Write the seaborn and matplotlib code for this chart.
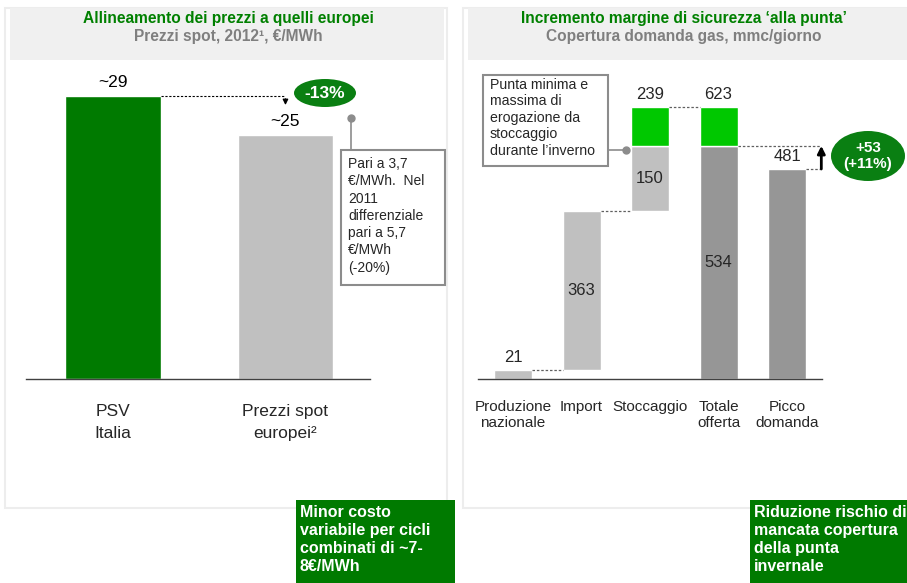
import matplotlib.pyplot as plt
import seaborn as sns
from matplotlib.patches import Rectangle, Ellipse

W, H = 907, 583

# left chart: spot prices 2012
price_labels = ["PSV\nItalia", "Prezzi spot\neuropei\u00b2"]
price_values = [29, 25]
price_text = ["~29", "~25"]
price_change = "-13%"
price_note = "Pari a 3,7\n\u20ac/MWh.  Nel\n2011\ndifferenziale\npari a 5,7\n\u20ac/MWh\n(-20%)"

# right chart: gas demand coverage (mmc/giorno)
supply_labels = ["Produzione\nnazionale", "Import", "Stoccaggio", "Totale\nofferta", "Picco\ndomanda"]
produzione = 21
importazione = 363
stoccaggio_min = 150
stoccaggio_max = 239
picco = 481
delta_label = "+53\n(+11%)"
storage_note = "Punta minima e\nmassima di\nerogazione da\nstoccaggio\ndurante l\u2019inverno"

GREEN = "#007A00"
BRIGHT = "#00C800"
LGRAY = "#C0C0C0"
DGRAY = "#969696"
OVAL = "#0A7F12"

sns.set_theme(style="white")
plt.rcParams["font.family"] = ["Liberation Sans", "DejaVu Sans"]
NARROW = ["Liberation Sans Narrow", "DejaVu Sans Condensed", "Liberation Sans", "DejaVu Sans"]

fig = plt.figure(figsize=(W / 100, H / 100), dpi=100)


def fx(x):
    return x / W


def fy(y):
    return 1 - y / H


def frect(x0, y0, x1, y1, **kw):
    fig.patches.append(Rectangle((fx(x0), fy(y1)), fx(x1 - x0), (y1 - y0) / H,
                                 transform=fig.transFigure, figure=fig, **kw))


# panels and headers
for x0, x1 in [(5, 447), (463, 912)]:
    frect(x0, 8, x1, 508, facecolor="white", edgecolor="#EDEDED", lw=1.5, zorder=-5)
    frect(x0 + 5, 8, x1 - 3, 60, facecolor="#F0F0F0", edgecolor="none", zorder=-4)

hdr = dict(ha="center", va="center", fontsize=11.2, fontweight="bold")
fig.text(fx(228), fy(18), "Allineamento dei prezzi a quelli europei", color="#008000", **hdr)
fig.text(fx(228), fy(37), "Prezzi spot, 2012\u00b9, \u20ac/MWh", color="#7F7F7F", **hdr)
fig.text(fx(684), fy(18), "Incremento margine di sicurezza \u2018alla punta\u2019", color="#008000", **hdr)
fig.text(fx(684), fy(37), "Copertura domanda gas, mmc/giorno", color="#7F7F7F", **hdr)

# ---- left chart
axl = fig.add_axes([fx(26), fy(379), fx(370 - 26), (379 - 60) / H])
axl.set_facecolor("none")
sns.barplot(x=price_labels, y=price_values, hue=price_labels, palette=[GREEN, LGRAY],
            saturation=1, width=0.556, legend=False, ax=axl)
axl.set_xlim(-0.504, 1.49)
axl.set_ylim(0, 32.7)
axl.set_yticks([])
axl.set_xlabel("")
axl.set_xticks(range(len(price_labels)), price_labels, family=NARROW, fontsize=12.5,
               linespacing=1.55)
axl.tick_params(axis="x", length=0, pad=18)
for s in ["top", "right", "left"]:
    axl.spines[s].set_visible(False)
axl.spines["bottom"].set_color("#404040")
axl.spines["bottom"].set_linewidth(1)
for i, (v, t) in enumerate(zip(price_values, price_text)):
    axl.text(i, v + 0.6, t, ha="center", va="bottom", fontsize=12.5, color="black")
axl.plot([0.278, 1.0], [price_values[0]] * 2, ls=(0, (2, 1.5)), color="black", lw=0.8, clip_on=False)
axl.annotate("", xy=(1.0, price_values[0] - 1.2), xytext=(1.0, price_values[0]),
             arrowprops=dict(arrowstyle="-|>", color="black", lw=0.9, mutation_scale=8))
fig.patches.append(Ellipse((fx(325), fy(93)), 62 / W, 28 / H, transform=fig.transFigure,
                           figure=fig, facecolor=OVAL, edgecolor="none"))
fig.text(fx(325), fy(93), price_change, ha="center", va="center", color="white",
         fontsize=12.5, fontweight="bold")

# note box
frect(341, 150, 445, 285, facecolor="white", edgecolor="#8C8C8C", lw=1.5, zorder=3)
fig.lines.append(plt.Line2D([fx(351), fx(351)], [fy(118), fy(150)], transform=fig.transFigure,
                            color="#8C8C8C", lw=1.2))
fig.lines.append(plt.Line2D([fx(351)], [fy(118)], transform=fig.transFigure, marker="o",
                            ms=5, color="#8C8C8C"))
fig.text(fx(348), fy(157), price_note, ha="left", va="top", fontsize=10, linespacing=1.3, zorder=4)

# ---- right chart
totale_min = produzione + importazione + stoccaggio_min
totale_max = produzione + importazione + stoccaggio_max
axr = fig.add_axes([fx(478), fy(379), fx(822 - 478), (379 - 60) / H])
axr.set_facecolor("none")
sns.barplot(x=supply_labels, y=[produzione, 0, 0, totale_min, picco], hue=supply_labels,
            palette=[LGRAY, LGRAY, LGRAY, DGRAY, DGRAY], saturation=1, width=0.555,
            legend=False, ax=axr)
bw = 0.555
axr.bar(1, importazione, bottom=produzione, width=bw, color=LGRAY)
axr.bar(2, stoccaggio_min, bottom=produzione + importazione, width=bw, color=LGRAY)
axr.bar(2, stoccaggio_max - stoccaggio_min, bottom=totale_min, width=bw, color=BRIGHT)
axr.bar(3, totale_max - totale_min, bottom=totale_min, width=bw, color=BRIGHT)
axr.set_xlim(-0.511, 4.51)
axr.set_ylim(0, 730.6)
axr.set_yticks([])
axr.set_xlabel("")
axr.set_xticks(range(len(supply_labels)), supply_labels, family=NARROW, fontsize=11)
axr.tick_params(axis="x", length=0, pad=15)
for s in ["top", "right", "left"]:
    axr.spines[s].set_visible(False)
axr.spines["bottom"].set_color("#404040")
axr.spines["bottom"].set_linewidth(1)

fs = 12
axr.text(0, produzione + 12, str(produzione), ha="center", va="bottom", fontsize=fs)
axr.text(1, produzione + importazione / 2, str(importazione), ha="center", va="center", fontsize=fs)
axr.text(2, produzione + importazione + stoccaggio_min / 2, str(stoccaggio_min), ha="center",
         va="center", fontsize=fs)
axr.text(2, totale_max + 12, str(stoccaggio_max), ha="center", va="bottom", fontsize=fs)
axr.text(3, totale_max + 12, str(totale_max), ha="center", va="bottom", fontsize=fs)
axr.text(3, totale_min / 2, str(totale_min), ha="center", va="center", fontsize=fs)
axr.text(4, picco + 12, str(picco), ha="center", va="bottom", fontsize=fs)

dash = dict(ls=(0, (2, 1.5)), color="#606060", lw=0.9, clip_on=False)
h = bw / 2
axr.plot([h, 1 - h], [produzione] * 2, **dash)
axr.plot([1 + h, 2 - h], [produzione + importazione] * 2, **dash)
axr.plot([2 + h, 3 - h], [totale_max] * 2, **dash)
axr.plot([3 + h, 4.5], [totale_min] * 2, **dash)
axr.plot([4 + h, 4.5], [picco] * 2, **dash)
axr.annotate("", xy=(4.5, totale_min), xytext=(4.5, picco),
             arrowprops=dict(arrowstyle="-|>", color="black", lw=2, mutation_scale=11,
                             shrinkA=0, shrinkB=0),
             annotation_clip=False)
fig.patches.append(Ellipse((fx(868), fy(156)), 74 / W, 50 / H, transform=fig.transFigure,
                           figure=fig, facecolor=OVAL, edgecolor="none"))
fig.text(fx(868), fy(156), delta_label, ha="center", va="center", color="white",
         fontsize=11, fontweight="bold", linespacing=1.1)

# storage note box
frect(483, 75, 608, 166, facecolor="white", edgecolor="#8C8C8C", lw=1.5, zorder=3)
fig.lines.append(plt.Line2D([fx(608), fx(626)], [fy(150), fy(150)], transform=fig.transFigure,
                            color="#8C8C8C", lw=1.2))
fig.lines.append(plt.Line2D([fx(626)], [fy(150)], transform=fig.transFigure, marker="o",
                            ms=5, color="#8C8C8C"))
fig.text(fx(490), fy(78), storage_note, ha="left", va="top", fontsize=10.2, linespacing=1.22, zorder=4)

# bottom callouts
frect(296, 500, 455, 590, facecolor=GREEN, edgecolor="none")
fig.text(fx(300), fy(505), "Minor costo\nvariabile per cicli\ncombinati di ~7-\n8\u20ac/MWh",
         ha="left", va="top", color="white", fontsize=11.5, fontweight="bold", family=NARROW,
         linespacing=1.25)
frect(750, 500, 912, 590, facecolor=GREEN, edgecolor="none")
fig.text(fx(754), fy(505), "Riduzione rischio di\nmancata copertura\ndella punta\ninvernale",
         ha="left", va="top", color="white", fontsize=11.5, fontweight="bold", family=NARROW,
         linespacing=1.25)

fig.savefig("out.png", dpi=100)
